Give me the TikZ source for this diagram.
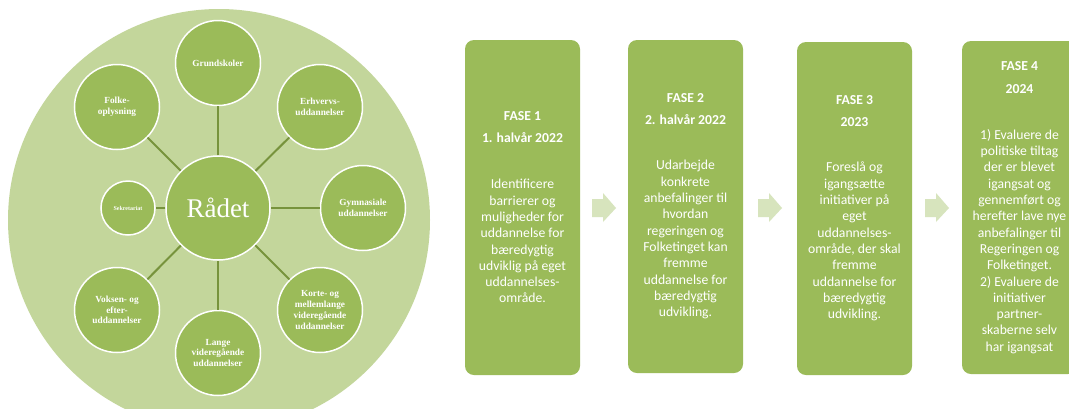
\documentclass[tikz,border=0pt]{standalone}
\usepackage{fontspec}
\newfontfamily\calfont{Carlito}
\newfontfamily\serfont{Liberation Serif}
\definecolor{accgreen}{HTML}{9BBB59}
\definecolor{bggreen}{HTML}{C3D69B}
\definecolor{linkgreen}{HTML}{77933C}
\definecolor{arrgreen}{HTML}{D7E4BD}
\begin{document}
\begin{tikzpicture}[x=1pt,y=-1pt,
  sat/.style={circle,fill=accgreen,draw=white,line width=1.5pt,inner sep=0pt,minimum size=85pt,text=white,align=center,font=\serfont\bfseries\fontsize{9.3}{10.7}\selectfont},
  link/.style={draw=linkgreen,line width=2pt},
  phase/.style={rectangle,rounded corners=9pt,fill=accgreen,minimum width=115pt,minimum height=334pt,text=white,align=center,font=\calfont\fontsize{13.7}{16.3}\selectfont,inner sep=0pt},
  flow/.style={fill=arrgreen}]
\useasboundingbox (0,0) rectangle (1069,408);
\clip (0,0) rectangle (1069,408);
\fill[white] (0,0) rectangle (1069,408);
% big background circle
\node[circle,fill=bggreen,minimum size=422pt,inner sep=0pt] (bg) at (219,220) {};
% centre
\node[sat,minimum size=104pt,font=\serfont\fontsize{27}{29}\selectfont] (radet) at (218,208) {Rådet};
\node[sat] (grund) at (218,63) {Grundskoler};
\node[sat] (erhv) at (320,107) {Erhvervs-\\uddannelser};
\node[sat] (gym) at (363,208) {Gymnasiale\\uddannelser};
\node[sat] (korte) at (320,310) {Korte- og\\mellemlange\\videregående\\uddannelser};
\node[sat] (lange) at (218,353) {Lange\\videregående\\uddannelser};
\node[sat] (voksen) at (117,310) {Voksen- og\\efter-\\uddannelser};
\node[sat,minimum size=54pt,font=\serfont\bfseries\fontsize{6}{7}\selectfont] (sekr) at (128,208) {Sekretariat};
\node[sat] (folke) at (117,107) {Folke-\\oplysning};
\foreach \n in {grund,erhv,gym,korte,lange,voksen,sekr,folke}
  \draw[link] (radet) -- (\n);
% phases
\node[phase,minimum height=335pt] (f1) at (522.5,207.5) {\textbf{FASE 1}\\[5.7pt]\textbf{1. halvår 2022}\\[29.7pt]Identificere\\barrierer og\\muligheder for\\uddannelse for\\bæredygtig\\udviklig på eget\\uddannelses-\\område.};
\node[phase,minimum height=333pt] (f2) at (685.5,206.5) {\textbf{FASE 2}\\[5.7pt]\textbf{2. halvår 2022}\\[28.7pt]Udarbejde\\konkrete\\anbefalinger til\\hvordan\\regeringen og\\Folketinget kan\\fremme\\uddannelse for\\bæredygtig\\udvikling.};
\node[phase,minimum height=333pt] (f3) at (854.5,208.5) {\textbf{FASE 3}\\[5.7pt]\textbf{2023}\\[28.7pt]Foreslå og\\igangsætte\\initiativer på\\eget\\uddannelses-\\område, der skal\\fremme\\uddannelse for\\bæredygtig\\udvikling.};
\node[phase,minimum height=333pt] (f4) at (1019.5,207.5) {\textbf{FASE 4}\\[6.7pt]\textbf{2024}\\[29.7pt]1) Evaluere de\\politiske tiltag\\der er blevet\\igangsat og\\gennemført og\\herefter lave nye\\anbefalinger til\\Regeringen og\\Folketinget.\\2) Evaluere de\\initiativer\\partner-\\skaberne selv\\har igangsat};
% arrows
\coordinate (a1) at (592,208);
\coordinate (a2) at (758,208);
\coordinate (a3) at (925,208);
\foreach \a in {a1,a2,a3}
  \fill[flow] ([shift={(0,-9)}]\a) -- ++(11,0) -- ++(0,-6) -- ++(13,15) -- ++(-13,14) -- ++(0,-5) -- ++(-11,0) -- cycle;
\end{tikzpicture}
\end{document}
